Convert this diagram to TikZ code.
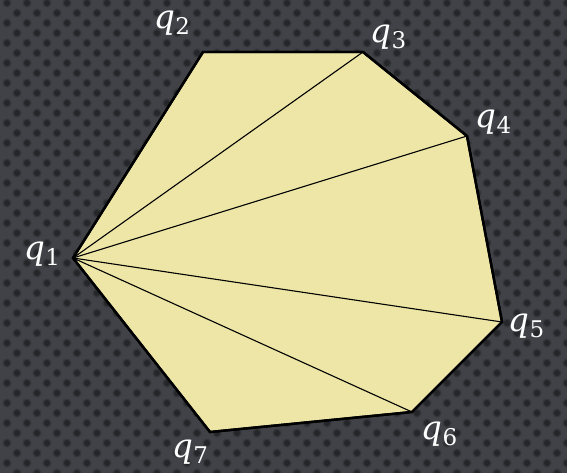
\documentclass[tikz,border=0pt]{standalone}
\usepackage{fontspec}
\newfontfamily\lblfont{DejaVu Serif}
\usetikzlibrary{calc}
\definecolor{bgc}{RGB}{64,66,71}
\definecolor{dotc}{RGB}{30,32,36}
\definecolor{fillc}{RGB}{238,230,167}
\newcommand{\qlab}[1]{{\fontsize{33}{33}\lblfont\itshape q}\kern0.5pt\raisebox{-6pt}{\fontsize{23}{23}\lblfont #1}}
\begin{document}
\begin{tikzpicture}[x=1pt,y=-1pt,
  lbl/.style={text=white,inner sep=0pt},
  diag/.style={draw=black,line width=1.1pt},
  outline/.style={draw=black,line width=2.4pt,line join=miter,fill=fillc}]
\useasboundingbox (0,0) rectangle (567,473);
\fill[bgc] (0,0) rectangle (567,473);
\begin{scope}
\clip (0,0) rectangle (567,473);
\foreach \r in {0,...,48}{
  \foreach \c in {0,...,29}{
    \pgfmathsetmacro{\xx}{\c*20+7+mod(\r,2)*10}
    \pgfmathsetmacro{\yy}{\r*10+3}
    \fill[dotc,opacity=0.35] (\xx,\yy) circle (4.5);
    \fill[dotc,opacity=0.7] (\xx,\yy) circle (3);
  }
}
\end{scope}
\coordinate (q1) at (73,258);
\coordinate (q2) at (203,52);
\coordinate (q3) at (363,52);
\coordinate (q4) at (467,136);
\coordinate (q5) at (502,322);
\coordinate (q6) at (412,412);
\coordinate (q7) at (210,432);
\path[outline] (q1) -- (q2) -- (q3) -- (q4) -- (q5) -- (q6) -- (q7) -- cycle;
\draw[diag] (q1) -- (q3);
\draw[diag] (q1) -- (q4);
\draw[diag] (q1) -- (q5);
\draw[diag] (q1) -- (q6);
\draw[outline,fill=none] (q1) -- (q2) -- (q3) -- (q4) -- (q5) -- (q6) -- (q7) -- cycle;
\node[lbl] (l1) at (42,254) {\qlab{1}};
\node[lbl] (l2) at (172,23) {\qlab{2}};
\node[lbl] (l3) at (388,37) {\qlab{3}};
\node[lbl] (l4) at (493,122) {\qlab{4}};
\node[lbl] (l5) at (526,326) {\qlab{5}};
\node[lbl] (l6) at (439,434) {\qlab{6}};
\node[lbl] (l7) at (190,452) {\qlab{7}};
\end{tikzpicture}
\end{document}
